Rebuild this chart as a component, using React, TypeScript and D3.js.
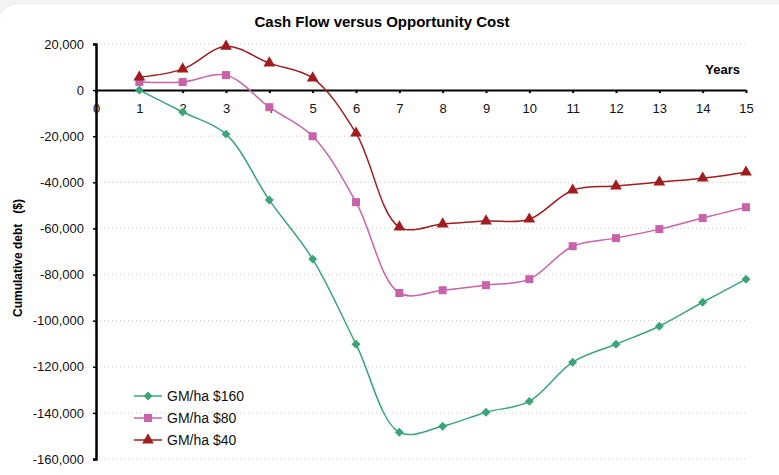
import React, { useEffect, useRef } from "react";
import * as d3 from "d3";

const years = [1, 2, 3, 4, 5, 6, 7, 8, 9, 10, 11, 12, 13, 14, 15];
const xTicks = [0, 1, 2, 3, 4, 5, 6, 7, 8, 9, 10, 11, 12, 13, 14, 15];
const yTicks = [20000, 0, -20000, -40000, -60000, -80000, -100000, -120000, -140000, -160000];

const gm160 = [0, -9500, -19100, -47700, -73300, -110200, -148400, -145800, -139700, -135000, -118000, -110200, -102400, -92000, -82000];
const gm80 = [3500, 3500, 6500, -7400, -20000, -48600, -88000, -86800, -84600, -82000, -67700, -64200, -60300, -55500, -50800];
const gm40 = [5600, 9100, 19000, 11700, 5200, -18700, -59400, -58100, -56800, -56000, -43400, -41600, -39900, -38200, -35600];

const series = [
  { name: "GM/ha $160", values: gm160, color: "#3aa57a", marker: "diamond" },
  { name: "GM/ha $80", values: gm80, color: "#c862a9", marker: "square" },
  { name: "GM/ha $40", values: gm40, color: "#a11c1f", marker: "triangle" },
];

const symbolFor = (m: string) => (m === "triangle" ? d3.symbolTriangle : d3.symbolSquare);
const sizeFor = (m: string) => (m === "diamond" ? 40 : m === "square" ? 64 : 60);
const rotFor = (m: string) => (m === "diamond" ? 45 : 0);

const App = () => {
  const svgRef = useRef<SVGSVGElement>(null);

  useEffect(() => {
    const svg = d3.select(svgRef.current);
    svg.selectAll("*").remove();

    const width = 779;
    const height = 475;
    const font = "Arial, 'Liberation Sans', sans-serif";

    // background panel
    svg.append("rect").attr("width", width).attr("height", height).attr("fill", "#f3f3f3");
    svg
      .append("rect")
      .attr("x", 0)
      .attr("y", 5)
      .attr("width", width + 20)
      .attr("height", height + 20)
      .attr("rx", 16)
      .attr("fill", "#ffffff");

    const x = d3.scaleLinear().domain([0, 15]).range([96, 746]);
    const y = d3.scaleLinear().domain([-160000, 20000]).range([459, 44]);

    // grid
    svg
      .append("g")
      .selectAll("line")
      .data(yTicks.filter((d) => d !== 0))
      .join("line")
      .attr("x1", x(0))
      .attr("x2", x(15))
      .attr("y1", (d) => y(d))
      .attr("y2", (d) => y(d))
      .attr("stroke", "#c8c8c8")
      .attr("stroke-width", 1)
      .attr("stroke-dasharray", "1,3");

    // y axis
    const yAxis = svg
      .append("g")
      .attr("transform", `translate(${x(0)},0)`)
      .call(
        d3
          .axisLeft(y)
          .tickValues(yTicks)
          .tickSize(3)
          .tickPadding(9)
          .tickFormat((d) => d3.format(",")(d as number).replace("−", "-"))
      );
    yAxis.select(".domain").attr("stroke", "#000").attr("stroke-width", 2.5);
    yAxis.selectAll(".tick line").attr("stroke", "#000").attr("stroke-width", 1.5);
    yAxis
      .selectAll(".tick text")
      .attr("fill", "#111")
      .style("font-family", font)
      .style("font-size", "13px");

    // x axis at zero
    const xAxis = svg
      .append("g")
      .attr("transform", `translate(0,${y(0)})`)
      .call(d3.axisBottom(x).tickValues(xTicks).tickSize(3).tickPadding(11).tickSizeOuter(0));
    xAxis.select(".domain").attr("stroke", "#000").attr("stroke-width", 2);
    xAxis.selectAll(".tick line").attr("stroke", "#000").attr("stroke-width", 2);
    xAxis
      .selectAll(".tick text")
      .attr("fill", "#111")
      .style("font-family", font)
      .style("font-size", "13px");

    // lines
    const line = d3
      .line<number>()
      .x((_, i) => x(years[i]))
      .y((d) => y(d))
      .curve(d3.curveCatmullRom.alpha(0.5));

    svg
      .append("g")
      .selectAll("path")
      .data(series)
      .join("path")
      .attr("d", (d) => line(d.values))
      .attr("fill", "none")
      .attr("stroke", (d) => d.color)
      .attr("stroke-width", 1.5);

    // markers
    series.forEach((s) => {
      svg
        .append("g")
        .selectAll("path")
        .data(s.values)
        .join("path")
        .attr("transform", (d, i) => `translate(${x(years[i])},${y(d)}) rotate(${rotFor(s.marker)})`)
        .attr("d", d3.symbol().type(symbolFor(s.marker)).size(sizeFor(s.marker))())
        .attr("fill", s.color);
    });

    // title
    svg
      .append("text")
      .attr("x", 382)
      .attr("y", 27)
      .attr("text-anchor", "middle")
      .style("font-family", font)
      .style("font-size", "15px")
      .style("font-weight", "bold")
      .text("Cash Flow versus Opportunity Cost");

    svg
      .append("text")
      .attr("x", 740)
      .attr("y", 74)
      .attr("text-anchor", "end")
      .style("font-family", font)
      .style("font-size", "13px")
      .style("font-weight", "bold")
      .text("Years");

    svg
      .append("text")
      .attr("transform", "translate(22,258) rotate(-90)")
      .attr("text-anchor", "middle")
      .style("font-family", font)
      .style("font-size", "12px")
      .style("font-weight", "bold")
      .attr("xml:space", "preserve")
      .text("Cumulative debt   ($)");

    // legend
    const legend = svg
      .append("g")
      .selectAll("g")
      .data(series)
      .join("g")
      .attr("transform", (d, i) => `translate(134,${396 + i * 22})`);
    legend
      .append("line")
      .attr("x1", 0)
      .attr("x2", 28)
      .attr("stroke", (d) => d.color)
      .attr("stroke-width", 1.5);
    legend
      .append("path")
      .attr("transform", (d) => `translate(14,0) rotate(${rotFor(d.marker)})`)
      .attr("d", (d) => d3.symbol().type(symbolFor(d.marker)).size(sizeFor(d.marker))())
      .attr("fill", (d) => d.color);
    legend
      .append("text")
      .attr("x", 33)
      .attr("y", 5)
      .style("font-family", font)
      .style("font-size", "14px")
      .attr("fill", "#111")
      .text((d) => d.name);
  }, []);

  return (
    <div style={{ position: "absolute", left: 0, top: 0, width: 779, height: 475 }}>
      <svg ref={svgRef} width={779} height={475} style={{ display: "block" }}></svg>
    </div>
  );
};

export default App;
